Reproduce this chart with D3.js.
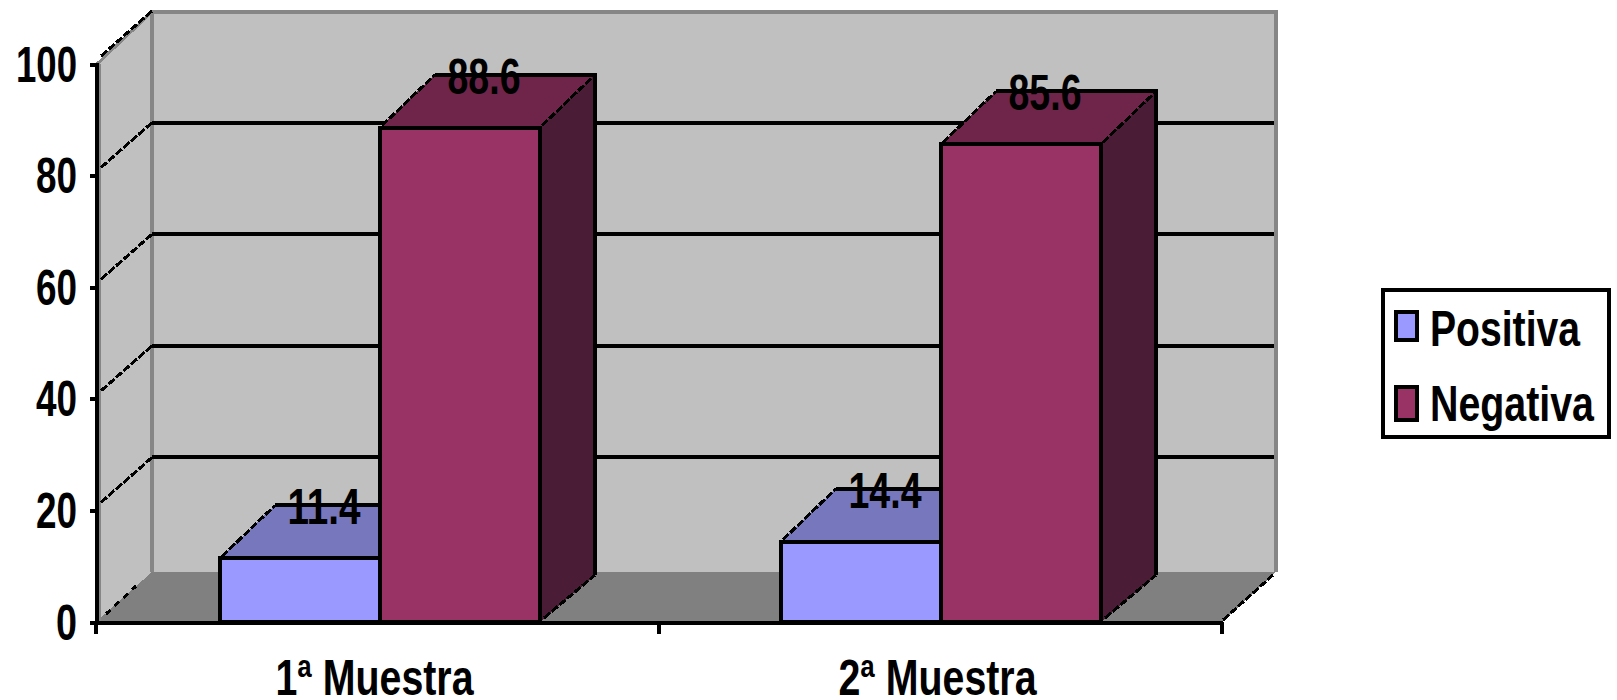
<!DOCTYPE html>
<html>
<head>
<meta charset="utf-8">
<script src="https://cdn.jsdelivr.net/npm/d3@7"></script>
<style>
  html, body { margin: 0; padding: 0; background: #fff; overflow: hidden; }
  text { font-family: "Liberation Sans", sans-serif; font-weight: bold; fill: #000; }
  line, rect, path, polygon { shape-rendering: crispEdges; }
</style>
</head>
<body>
<script>
// chart data
var categories = ["1ª Muestra", "2ª Muestra"];
var seriesNames = ["Positiva", "Negativa"];
var positiva = [11.4, 14.4];
var negativa = [88.6, 85.6];
var yTicks = [0, 20, 40, 60, 80, 100];

// properties for the graph
var w = 1617;
var h = 700;
var start_w = 96;
var end_w = 1222;
var base_h = 622;
var top_h = 64;
var depth_x = 55;
var depth_y = 53;
var floor_y = 50;
var bar_floor_y = 47;
var fontSize = 50;
var diagDash = "8 2";

var colors = {
  wall: "#c0c0c0", wallEdge: "#868686", floor: "#808080",
  Positiva: { front: "#9999ff", top: "#7777bd", side: "#4c4c80" },
  Negativa: { front: "#993366", top: "#6f2549", side: "#4a1c35" }
};

var svg = d3.select("body").append("svg").attr("width", w).attr("height", h).style("display", "block");

var yScale = d3.scaleLinear().domain([0, 100]).range([base_h, top_h]);
var xScale = d3.scaleBand().domain(categories).range([start_w, end_w]);
// left edge of each bar group, the bars do not sit quite evenly in the bands
var groupScale = d3.scalePoint().domain(categories).range([220, 781]);
var barScale = d3.scaleBand().domain(seriesNames).range([0, 320]);

function points(list) {
  return list.map(function(p) { return p.join(","); }).join(" ");
}

function diagonal(parent, x1, y1, x2, y2) {
  parent.append("line")
        .attr("x1", x1).attr("y1", y1).attr("x2", x2).attr("y2", y2)
        .attr("stroke", "#000").attr("stroke-width", 3)
        .attr("stroke-dasharray", diagDash);
}

function drawWalls() {
  var backLeft = start_w + 56;
  var backRight = end_w + 54;
  var backTop = 12;
  var backFloor = base_h - floor_y;

  svg.append("polygon")
     .attr("points", points([[start_w, base_h], [backLeft, backFloor], [backLeft, backTop], [start_w, top_h]]))
     .attr("fill", colors.wall);
  svg.append("rect")
     .attr("x", backLeft).attr("y", backTop)
     .attr("width", backRight - backLeft).attr("height", backFloor - backTop)
     .attr("fill", colors.wall);
  svg.append("polygon")
     .attr("points", points([[start_w, base_h], [backLeft, backFloor], [backRight, backFloor], [end_w, base_h]]))
     .attr("fill", colors.floor);

  // gray edges of the walls
  svg.append("path")
     .attr("d", "M" + backLeft + "," + backFloor + "V" + backTop + "H" + backRight + "V" + backFloor)
     .attr("fill", "none").attr("stroke", colors.wallEdge).attr("stroke-width", 4);
  svg.append("path")
     .attr("d", "M" + (start_w + 3) + "," + base_h + "V" + top_h)
     .attr("fill", "none").attr("stroke", colors.wallEdge).attr("stroke-width", 3);
  svg.append("line")
     .attr("x1", start_w + 1).attr("y1", top_h)
     .attr("x2", backLeft).attr("y2", backTop)
     .attr("stroke", colors.wallEdge).attr("stroke-width", 3);

  // grid lines: diagonal on the side wall, flat on the back wall
  yTicks.slice(1).forEach(function(t) {
    diagonal(svg, start_w + 5, yScale(t) - 8, backLeft, yScale(t) - depth_y);
    if (t < 100) {
      svg.append("line")
         .attr("x1", backLeft).attr("x2", backRight - 2)
         .attr("y1", yScale(t) - depth_y).attr("y2", yScale(t) - depth_y)
         .attr("stroke", "#000").attr("stroke-width", 4);
    }
  });

  // floor edges
  svg.append("line")
     .attr("x1", start_w + 10).attr("y1", base_h - 8)
     .attr("x2", start_w + 40).attr("y2", base_h - 36)
     .attr("stroke", "#000").attr("stroke-width", 3).attr("stroke-dasharray", "6 6");
  diagonal(svg, end_w + 1, base_h - 2, backRight - 3, backFloor + 3);
}

function drawBar(category, name, value) {
  var x0 = groupScale(category) + barScale(name);
  var x1 = x0 + barScale.bandwidth();
  var y0 = yScale(0);
  var y1 = yScale(value);
  var c = colors[name];
  var g = svg.append("g");

  // faces first, then the outlines
  g.append("polygon")
   .attr("points", points([[x1, y0], [x1 + depth_x, y0 - bar_floor_y], [x1 + depth_x, y1 - depth_y], [x1, y1]]))
   .attr("fill", c.side);
  g.append("polygon")
   .attr("points", points([[x0, y1], [x0 + depth_x, y1 - depth_y], [x1 + depth_x, y1 - depth_y], [x1, y1]]))
   .attr("fill", c.top);
  g.append("rect")
   .attr("x", x0).attr("y", y1)
   .attr("width", x1 - x0).attr("height", y0 - y1)
   .attr("fill", c.front)
   .attr("stroke", "#000").attr("stroke-width", 4);
  g.append("path")
   .attr("d", "M" + (x0 + depth_x) + "," + (y1 - depth_y) + "H" + (x1 + depth_x) + "V" + (y0 - bar_floor_y))
   .attr("fill", "none").attr("stroke", "#000").attr("stroke-width", 4);

  diagonal(g, x0 + 2, y1 - 2, x0 + depth_x, y1 - depth_y);
  diagonal(g, x1 + 2, y1 - 2, x1 + depth_x, y1 - depth_y);
  diagonal(g, x1 + 4, y0 - 4, x1 + depth_x, y0 - bar_floor_y);
}

function drawLabel(category, name, value) {
  svg.append("text")
     .attr("x", groupScale(category) + barScale(name) + barScale.bandwidth() / 2 + 24)
     .attr("y", yScale(value) - 34)
     .attr("text-anchor", "middle")
     .attr("font-size", fontSize)
     .attr("textLength", 73)
     .attr("lengthAdjust", "spacingAndGlyphs")
     .text(value.toFixed(1));
}

function drawAxes() {
  var yAxis = d3.axisLeft(yScale).tickValues(yTicks).tickSize(6).tickPadding(13);
  var xAxis = d3.axisBottom(xScale).tickSize(0);

  var gy = svg.append("g")
              .attr("transform", "translate(" + start_w + ",0)")
              .call(yAxis);
  var gx = svg.append("g")
              .attr("transform", "translate(0," + base_h + ")")
              .call(xAxis);

  gy.selectAll("text")
    .attr("font-size", fontSize)
    .attr("dy", 17)
    .attr("textLength", function(d) { return String(d).length * 20 + 1; })
    .attr("lengthAdjust", "spacingAndGlyphs");
  gx.selectAll("text")
    .attr("font-size", fontSize)
    .attr("y", 73)
    .attr("dy", 0)
    .attr("dx", -3)
    .attr("textLength", 198)
    .attr("lengthAdjust", "spacingAndGlyphs");
  svg.selectAll("g.tick line, .domain").attr("stroke", "#000").attr("stroke-width", 4);

  // category separators below the axis
  categories.concat([null]).forEach(function(c) {
    var x = c === null ? end_w : xScale(c);
    svg.append("line")
       .attr("x1", x).attr("x2", x).attr("y1", base_h).attr("y2", base_h + 12)
       .attr("stroke", "#000").attr("stroke-width", 4);
  });
}

function drawLegend() {
  var box = svg.append("g");
  box.append("rect")
     .attr("x", 1383).attr("y", 290)
     .attr("width", 226).attr("height", 147)
     .attr("fill", "#fff").attr("stroke", "#000").attr("stroke-width", 4);

  var rows = [{ y: 312, h: 28, base: 346, len: 150 }, { y: 387, h: 33, base: 421, len: 164 }];
  seriesNames.forEach(function(name, i) {
    box.append("rect")
       .attr("x", 1396).attr("y", rows[i].y)
       .attr("width", 21).attr("height", rows[i].h)
       .attr("fill", colors[name].front).attr("stroke", "#000").attr("stroke-width", 4);
    box.append("text")
       .attr("x", 1430).attr("y", rows[i].base)
       .attr("font-size", fontSize)
       .attr("textLength", rows[i].len)
       .attr("lengthAdjust", "spacingAndGlyphs")
       .text(name);
  });
}

drawWalls();
categories.forEach(function(c, i) {
  drawBar(c, "Positiva", positiva[i]);
  drawBar(c, "Negativa", negativa[i]);
});
drawAxes();
categories.forEach(function(c, i) {
  drawLabel(c, "Positiva", positiva[i]);
  drawLabel(c, "Negativa", negativa[i]);
});
drawLegend();
</script>
</body>
</html>
